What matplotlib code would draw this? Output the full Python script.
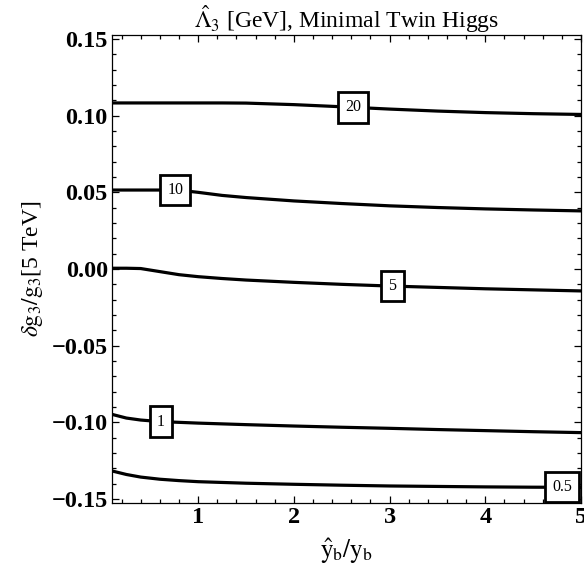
"""
Contour lines of Lambda_3 hat for the minimal twin Higgs
"""

import numpy as np
import matplotlib
matplotlib.use("Agg")
import matplotlib.pyplot as plt
from matplotlib.ticker import MultipleLocator, FuncFormatter

# data
x_ratio = [0.1, 0.25, 0.4, 0.6, 0.8, 1.0, 1.25, 1.5, 2.0, 2.5, 3.0, 3.5, 4.0, 4.5, 5.0]

level_labels = ["20", "10", "5", "1", "0.5"]

dg_20 = [0.1083, 0.1083, 0.1083, 0.1083, 0.1083, 0.1083, 0.1083, 0.1082, 0.1072, 0.1058,
         0.1043, 0.1030, 0.1020, 0.1013, 0.1008]
dg_10 = [0.0515, 0.0515, 0.0515, 0.0515, 0.0514, 0.0500, 0.0480, 0.0466, 0.0444, 0.0427,
         0.0412, 0.0401, 0.0392, 0.0385, 0.0379]
dg_5 = [0.0005, 0.0005, 0.0003, -0.0017, -0.0037, -0.0050, -0.0062, -0.0072, -0.0087, -0.0100,
        -0.0111, -0.0120, -0.0129, -0.0136, -0.0143]
dg_1 = [-0.0948, -0.0972, -0.0985, -0.0995, -0.1000, -0.1005, -0.1010, -0.1015, -0.1024, -0.1032,
        -0.1039, -0.1047, -0.1054, -0.1061, -0.1067]
dg_05 = [-0.1317, -0.1340, -0.1357, -0.1371, -0.1380, -0.1387, -0.1392, -0.1397, -0.1404, -0.1410,
         -0.1415, -0.1418, -0.1421, -0.1423, -0.1424]

# where the inline labels sit along each line
label_x = [2.62, 0.76, 3.03, 0.61, 4.80]

plt.rcParams['font.family'] = ['Liberation Serif', 'DejaVu Serif']
plt.rcParams['mathtext.fontset'] = 'stix'

fig = plt.figure(figsize=(5.84, 5.74), dpi=100)
ax = fig.add_axes([0.1918, 0.1237, 0.8031, 0.8153])

curves = [dg_20, dg_10, dg_5, dg_1, dg_05]
for ys, lab, lx in zip(curves, level_labels, label_x):
    ax.plot(x_ratio, ys, color='black', linewidth=2.3, solid_capstyle='butt', zorder=2)
    ly = np.interp(lx, x_ratio, ys)
    ax.text(lx, ly, lab, ha='center', va='center', fontsize=11.5, zorder=4,
            bbox=dict(boxstyle='square,pad=0.45', facecolor='white', edgecolor='black', linewidth=2.0))

ax.set_xlim(0.1, 5.0)
ax.set_ylim(-0.1526, 0.1526)

ax.xaxis.set_major_locator(MultipleLocator(1))
ax.xaxis.set_minor_locator(MultipleLocator(0.2))
ax.yaxis.set_major_locator(MultipleLocator(0.05))
ax.yaxis.set_minor_locator(MultipleLocator(0.01))
ax.yaxis.set_major_formatter(FuncFormatter(lambda v, p: ('%.2f' % v).replace('-', '\u2212')))
ax.xaxis.set_major_formatter(FuncFormatter(lambda v, p: '%d' % round(v)))

ax.tick_params(which='both', direction='in', top=True, right=True, width=0.9, colors='black')
ax.tick_params(which='major', length=5, labelsize=17.5, pad=3)
ax.tick_params(which='minor', length=3)
for lbl in ax.get_xticklabels() + ax.get_yticklabels():
    lbl.set_fontweight('bold')
for sp in ax.spines.values():
    sp.set_linewidth(0.9)

ax.set_title(r'$\hat{\Lambda}_3$ [GeV], Minimal Twin Higgs', fontsize=17, pad=4)
ax.set_xlabel(r'$\hat{\mathrm{y}}_\mathrm{b}/\mathrm{y}_\mathrm{b}$', fontsize=18, labelpad=6)
ax.set_ylabel(r'$\delta\mathrm{g}_3/\mathrm{g}_3$[5 TeV]', fontsize=17, labelpad=5)

fig.savefig('out.png', dpi=100)
